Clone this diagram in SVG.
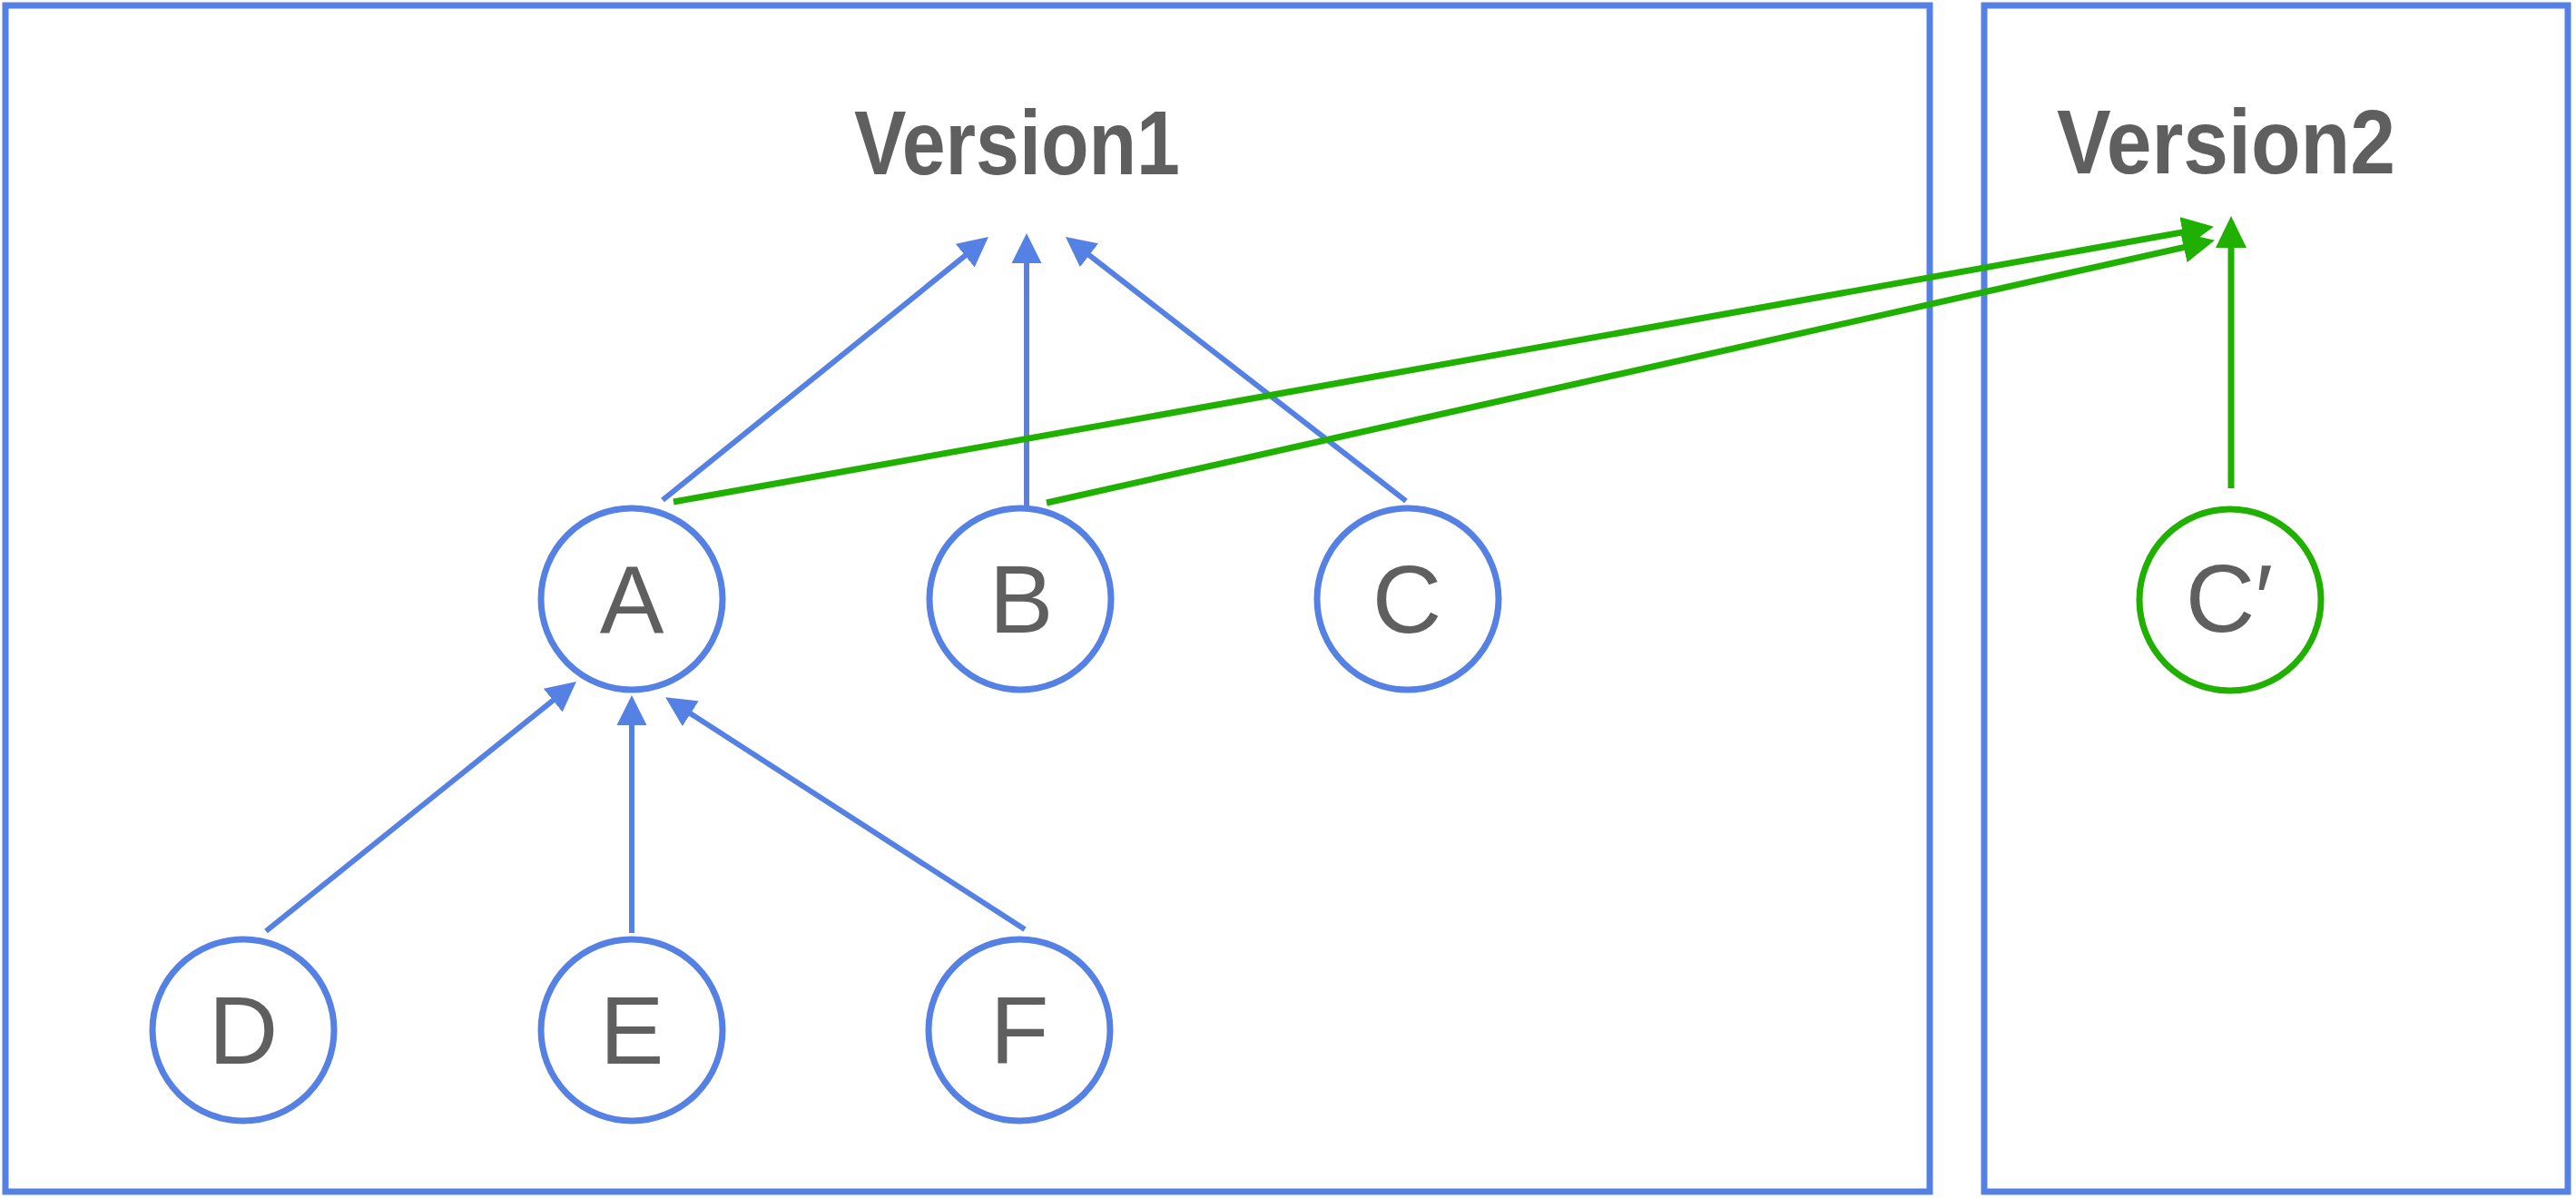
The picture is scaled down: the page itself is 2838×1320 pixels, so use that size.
<svg xmlns="http://www.w3.org/2000/svg" width="2838" height="1320" viewBox="0 0 2838 1320">
<style>
.box{fill:none;stroke:#5581e4;stroke-width:7}
.node{fill:#ffffff;stroke:#5581e4;stroke-width:7}
.gnode{fill:#ffffff;stroke:#20b000;stroke-width:7}
.title{font-family:"Liberation Sans",Arial,sans-serif;font-weight:bold;font-size:100px;fill:#5f5f5f}
.lbl{font-family:"Liberation Sans",Arial,sans-serif;font-size:106px;fill:#5f5f5f;text-anchor:middle}
.blue{stroke:#5581e4;stroke-width:6;fill:none}
.green{stroke:#20b000;stroke-width:7;fill:none}
</style>
<defs>
<marker id="ab" markerUnits="userSpaceOnUse" markerWidth="33" markerHeight="33" refX="18" refY="16.5" orient="auto"><path d="M0,0 L33,16.5 L0,33 z" fill="#5581e4"/></marker>
<marker id="ag" markerUnits="userSpaceOnUse" markerWidth="35" markerHeight="34" refX="19" refY="17" orient="auto"><path d="M0,0 L35,17 L0,34 z" fill="#20b000"/></marker>
</defs>
<rect width="2838" height="1320" fill="#ffffff"/>
<g id="version1">
<rect class="box" x="6" y="6" width="2120" height="1307"/>
<text class="title" x="941" y="192" textLength="359" lengthAdjust="spacingAndGlyphs">Version1</text>
</g>
<g id="version2">
<rect class="box" x="2186" y="6" width="643" height="1307"/>
<text class="title" x="2266" y="191" textLength="373" lengthAdjust="spacingAndGlyphs">Version2</text>
</g>
<g id="connectors">
<line class="blue" x1="730" y1="551" x2="1077.3" y2="270.4" marker-end="url(#ab)"/>
<line class="blue" x1="1131" y1="557" x2="1131" y2="272" marker-end="url(#ab)" style="stroke:#5f80d0"/>
<line class="blue" x1="1549" y1="552" x2="1185.8" y2="270.2" marker-end="url(#ab)"/>
<line class="blue" x1="293" y1="1026" x2="623.3" y2="760.4" marker-end="url(#ab)"/>
<line class="blue" x1="696" y1="1028" x2="696" y2="781" marker-end="url(#ab)"/>
<line class="blue" x1="1129" y1="1024" x2="745.7" y2="776.5" marker-end="url(#ab)"/>
<line class="green" x1="742" y1="553" x2="2423.2" y2="252.6" marker-end="url(#ag)"/>
<line class="green" x1="1153" y1="554" x2="2424.4" y2="268.3" marker-end="url(#ag)"/>
<line class="green" x1="2458" y1="538" x2="2458" y2="254" marker-end="url(#ag)"/>
</g>
<g id="node-A"><circle class="node" cx="696" cy="660" r="100"/><text class="lbl" x="696" y="697">A</text></g>
<g id="node-B"><circle class="node" cx="1124" cy="660" r="100"/><text class="lbl" x="1125" y="697">B</text></g>
<g id="node-C"><circle class="node" cx="1551" cy="660" r="100"/><text class="lbl" x="1550" y="697">C</text></g>
<g id="node-D"><circle class="node" cx="268" cy="1135" r="100"/><text class="lbl" x="268" y="1172">D</text></g>
<g id="node-E"><circle class="node" cx="696" cy="1135" r="100"/><text class="lbl" x="696" y="1172">E</text></g>
<g id="node-F"><circle class="node" cx="1123" cy="1135" r="100"/><text class="lbl" x="1123" y="1172">F</text></g>
<g id="node-Cprime"><circle class="gnode" cx="2457" cy="661" r="100"/><text class="lbl" x="2456" y="696">C′</text></g>
</svg>
